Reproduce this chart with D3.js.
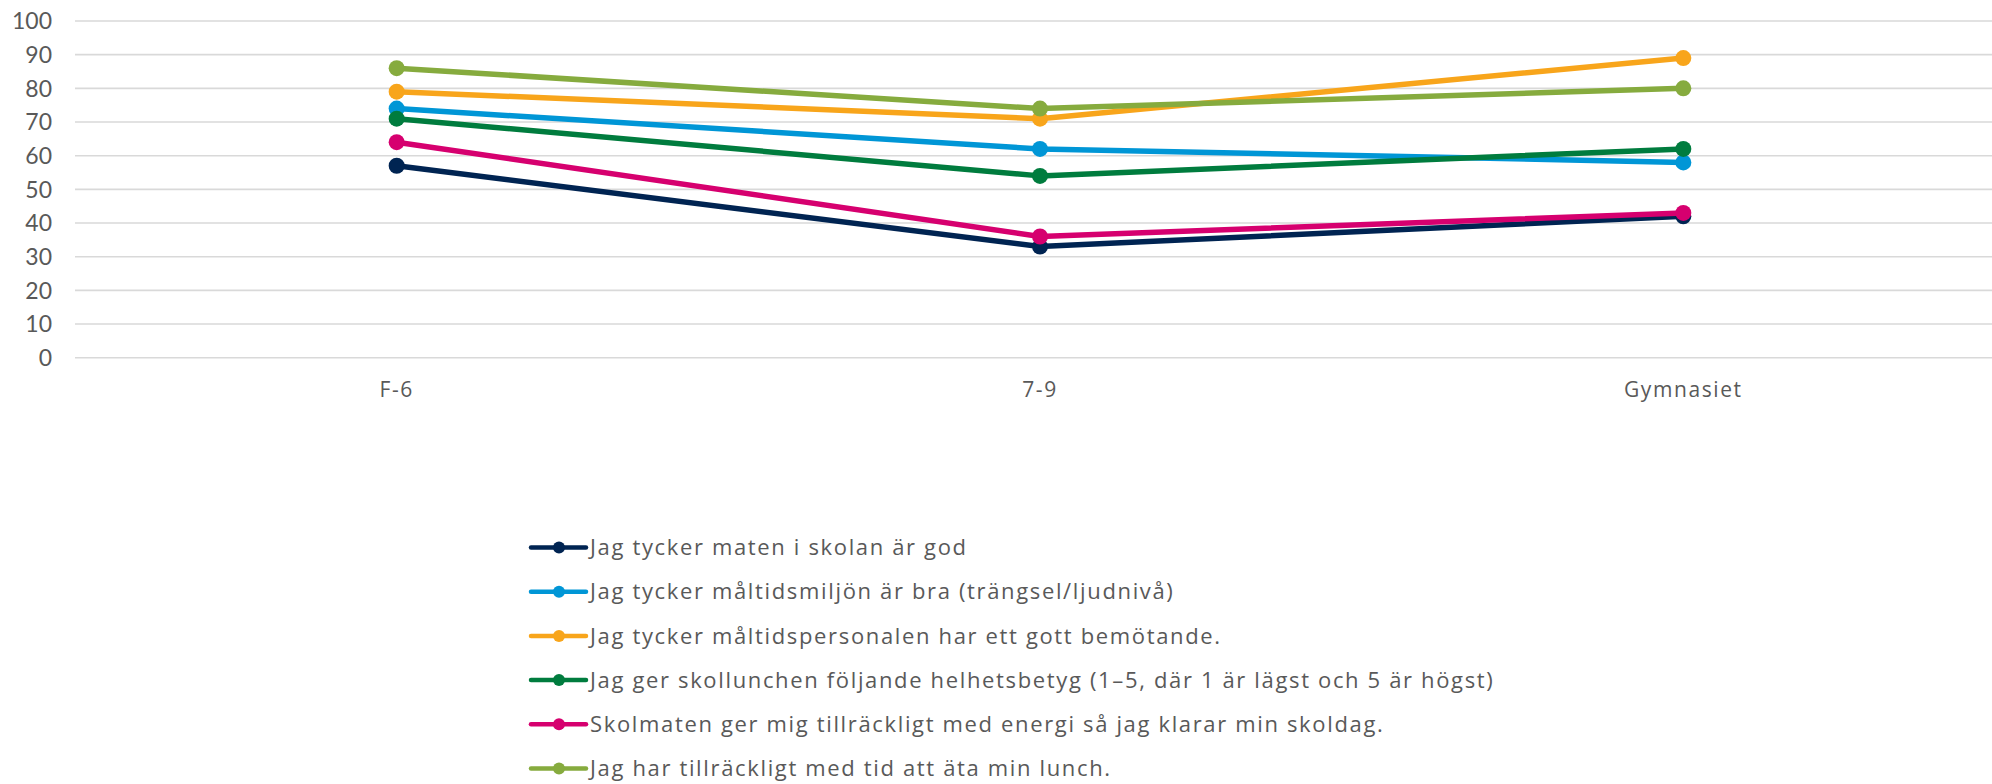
<!DOCTYPE html>
<html>
<head>
<meta charset="utf-8">
<script src="https://cdn.jsdelivr.net/npm/d3@7"></script>
<style>
  body { margin: 0; background: #fff; }
  svg { display: block; font-family: Lato, "Noto Sans", sans-serif; }
  .lbl { font-family: "Open Sans", "Noto Sans", sans-serif; }
</style>
</head>
<body>
<svg width="1992" height="784"></svg>
<script>
// categories on the x axis
var categories = ['F-6', '7-9', 'Gymnasiet'];
var yTicks = d3.range(0, 101, 10);

// one array per statement
var seriesNames = [
  'Jag tycker maten i skolan är god',
  'Jag tycker måltidsmiljön är bra (trängsel/ljudnivå)',
  'Jag tycker måltidspersonalen har ett gott bemötande.',
  'Jag ger skollunchen följande helhetsbetyg (1–5, där 1 är lägst och 5 är högst)',
  'Skolmaten ger mig tillräckligt med energi så jag klarar min skoldag.',
  'Jag har tillräckligt med tid att äta min lunch.'
];
var maten = [57, 33, 42];
var miljo = [74, 62, 58];
var personal = [79, 71, 89];
var betyg = [71, 54, 62];
var energi = [64, 36, 43];
var tid = [86, 74, 80];
var colors = ['#002452', '#0096d6', '#f8a51b', '#007c3e', '#d6006f', '#86ab3e'];

var allValues = [maten, miljo, personal, betyg, energi, tid];
var series = seriesNames.map((n, i) => ({name: n, values: allValues[i], color: colors[i]}));

var svg = d3.select('svg');

var x = d3.scaleBand().domain(categories).range([75, 2005]);
var y = d3.scaleLinear().domain([0, 100]).range([357.7, 21]);
var cx = d => x(d) + x.bandwidth() / 2;

// gridlines
svg.append('g')
  .selectAll('line')
  .data(yTicks)
  .enter()
  .append('line')
  .attr('x1', 75)
  .attr('x2', 1992)
  .attr('y1', d => y(d))
  .attr('y2', d => y(d))
  .style('stroke', '#d9d9d9')
  .style('stroke-width', '1.6px');

// y labels
svg.append('g')
  .selectAll('text')
  .data(yTicks)
  .enter()
  .append('text')
  .attr('x', 52)
  .attr('y', d => y(d))
  .attr('dy', '0.36em')
  .attr('text-anchor', 'end')
  .style('font-size', '23px')
  .style('fill', '#595959')
  .text(d => d);

// x labels
svg.append('g')
  .selectAll('text')
  .data(categories)
  .enter()
  .append('text')
  .attr('class', 'lbl')
  .attr('x', d => cx(d))
  .attr('y', 397)
  .attr('text-anchor', 'middle')
  .style('font-size', '21px')
  .style('letter-spacing', '1.6px')
  .style('fill', '#595959')
  .text(d => d);

var line = d3.line()
  .x((d, i) => cx(categories[i]))
  .y(d => y(d));

var gs = svg.append('g')
  .selectAll('g')
  .data(series)
  .enter()
  .append('g');

gs.append('path')
  .attr('d', d => line(d.values))
  .style('fill', 'none')
  .style('stroke', d => d.color)
  .style('stroke-width', '5.5px')
  .style('stroke-linejoin', 'round');

gs.selectAll('circle')
  .data(d => d.values.map((v, i) => ({v: v, i: i, color: d.color})))
  .enter()
  .append('circle')
  .attr('cx', d => cx(categories[d.i]))
  .attr('cy', d => y(d.v))
  .attr('r', 8)
  .style('fill', d => d.color);

// legend
var leg = svg.append('g')
  .selectAll('g')
  .data(series)
  .enter()
  .append('g')
  .attr('transform', (d, i) => `translate(0,${547.5 + i * 44.2})`);

leg.append('line')
  .attr('x1', 531).attr('x2', 586)
  .attr('y1', 0).attr('y2', 0)
  .style('stroke', d => d.color)
  .style('stroke-width', '4.5px')
  .style('stroke-linecap', 'round');

leg.append('circle')
  .attr('cx', 559).attr('cy', 0).attr('r', 6)
  .style('fill', d => d.color);

leg.append('text')
  .attr('class', 'lbl')
  .attr('x', 590)
  .attr('y', 0)
  .attr('dy', '0.35em')
  .style('font-size', '22px')
  .style('letter-spacing', '1.65px')
  .style('fill', '#595959')
  .text(d => d.name);
</script>
</body>
</html>
